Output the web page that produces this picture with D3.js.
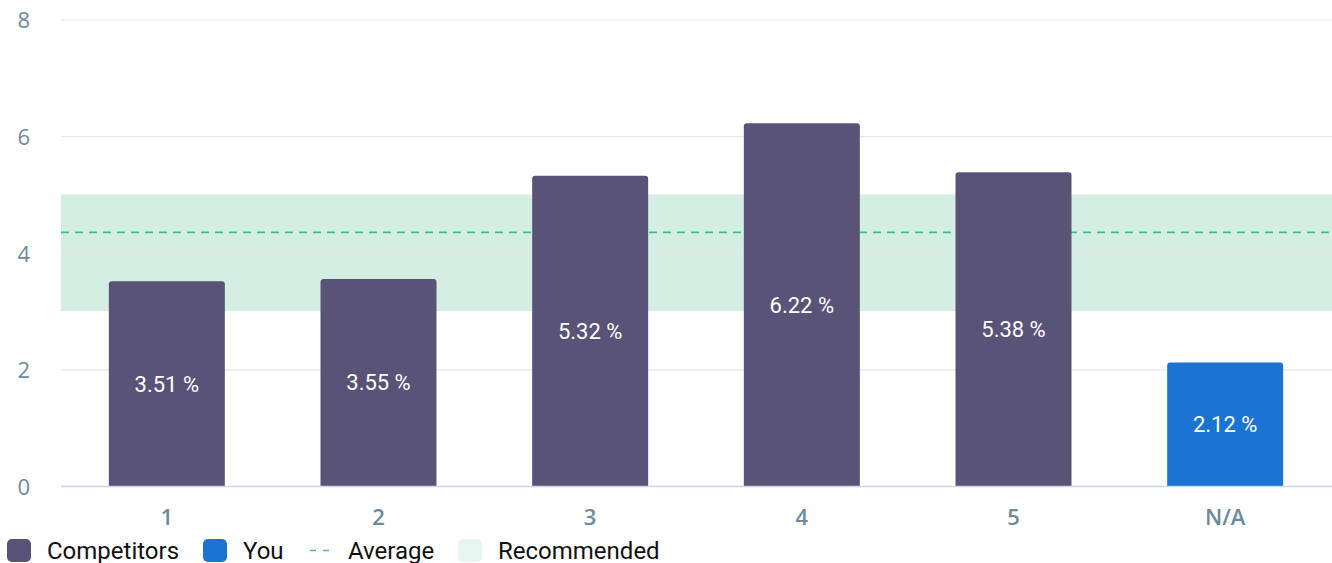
<!DOCTYPE html>
<html>
<head>
<meta charset="utf-8">
<script src="https://cdn.jsdelivr.net/npm/d3@7"></script>
<style>
  html, body { margin: 0; padding: 0; background: #fff; }
  svg { display: block; }
</style>
</head>
<body>
<svg id="chart" width="1332" height="563"></svg>
<script>
// Engagement rate by position (percent)
const categories = ["1", "2", "3", "4", "5", "N/A"];
const values = [3.51, 3.55, 5.32, 6.22, 5.38, 2.12];
const seriesOf = ["Competitors", "Competitors", "Competitors", "Competitors", "Competitors", "You"];
const yTicks = [0, 2, 4, 6, 8];
const averageValue = 4.35;
const recommendedRange = [3, 5];
const legendItems = ["Competitors", "You", "Average", "Recommended"];

const colors = {
  Competitors: "#595377",
  You: "#1a75d2",
  Average: "#3dbf87",
  Recommended: "#d5eee3",
  RecommendedKey: "#e6f5ef"
};

const W = 1332, H = 563;
const plot = { left: 61, right: 1331, top: 19.5, bottom: 486 };

const svg = d3.select("#chart");

const x = d3.scaleBand()
  .domain(categories)
  .range([plot.left, plot.right])
  .paddingInner(0.452)
  .paddingOuter(0.226);

const y = d3.scaleLinear()
  .domain([0, 8])
  .range([plot.bottom, plot.top]);

// Recommended band
svg.append("rect")
  .attr("x", plot.left)
  .attr("y", y(recommendedRange[1]))
  .attr("width", plot.right - plot.left + 1)
  .attr("height", y(recommendedRange[0]) - y(recommendedRange[1]))
  .attr("fill", colors.Recommended);

// Horizontal grid lines
const yAxis = d3.axisLeft(y)
  .tickValues(yTicks)
  .tickSize(-(plot.right - plot.left + 1))
  .tickPadding(31)
  .tickFormat(d3.format("d"));

const gy = svg.append("g")
  .attr("transform", `translate(${plot.left},0)`)
  .call(yAxis);
gy.select(".domain").remove();
gy.selectAll(".tick line")
  .attr("stroke", d => d === 0 ? "none" : "#e6e6e6")
  .attr("stroke-width", 1.2);
gy.selectAll(".tick text")
  .attr("x", -31)
  .attr("dy", "0.38em")
  .attr("text-anchor", "end")
  .attr("fill", "#6b8a9c")
  .style("font-family", "'Open Sans', sans-serif")
  .style("font-size", "22px");

// Average line
svg.append("line")
  .attr("x1", plot.left)
  .attr("x2", plot.right)
  .attr("y1", y(averageValue))
  .attr("y2", y(averageValue))
  .attr("stroke", colors.Average)
  .attr("stroke-width", 1.6)
  .attr("stroke-dasharray", "8,6");

// Bars with rounded top corners
const r = 3;
function barPath(x0, y0, w, h) {
  return `M${x0},${y0 + h}V${y0 + r}Q${x0},${y0} ${x0 + r},${y0}H${x0 + w - r}Q${x0 + w},${y0} ${x0 + w},${y0 + r}V${y0 + h}Z`;
}

const data = categories.map((c, i) => ({ cat: c, value: values[i], series: seriesOf[i] }));

svg.append("g")
  .selectAll("path")
  .data(data)
  .join("path")
  .attr("d", d => barPath(x(d.cat), y(d.value), x.bandwidth(), y(0) - y(d.value)))
  .attr("fill", d => colors[d.series]);

// Value labels
svg.append("g")
  .selectAll("text")
  .data(data)
  .join("text")
  .attr("x", d => x(d.cat) + x.bandwidth() / 2)
  .attr("y", d => (y(d.value) + y(0)) / 2)
  .attr("dy", "0.36em")
  .attr("text-anchor", "middle")
  .attr("fill", "#ffffff")
  .style("font-family", "Roboto, sans-serif")
  .style("font-weight", 400)
  .style("font-size", "22px")
  .text(d => `${d.value.toFixed(2)} %`);

// Baseline and category axis
const xAxis = d3.axisBottom(x).tickSize(0).tickPadding(0);
const gx = svg.append("g")
  .attr("transform", `translate(0,${plot.bottom})`)
  .call(xAxis);
gx.select(".domain")
  .attr("d", `M${plot.left},0.5H${plot.right + 1}`)
  .attr("stroke", "#ccd6eb")
  .attr("stroke-width", 1.5);
gx.selectAll(".tick text")
  .attr("y", 39)
  .attr("dy", 0)
  .attr("fill", "#6b8a9c")
  .style("font-family", "'Open Sans', sans-serif")
  .style("font-weight", 600)
  .style("font-size", "22px");

// Legend
const legend = svg.append("g");
const legendX = [7, 203, 310, 458];
const textX = [47, 243, 348, 498];
legendItems.forEach((name, i) => {
  if (name === "Average") {
    legend.append("line")
      .attr("x1", legendX[i]).attr("x2", legendX[i] + 19)
      .attr("y1", 550.5).attr("y2", 550.5)
      .attr("stroke", colors.Average)
      .attr("stroke-width", 1.6)
      .attr("stroke-dasharray", "6,7");
  } else {
    legend.append("rect")
      .attr("x", legendX[i]).attr("y", 539)
      .attr("width", 24).attr("height", 23)
      .attr("rx", 5)
      .attr("fill", name === "Recommended" ? colors.RecommendedKey : colors[name]);
  }
  legend.append("text")
    .attr("x", textX[i])
    .attr("y", 559)
    .attr("fill", "#111")
    .style("font-family", "Roboto, sans-serif")
    .style("font-size", "24px")
    .text(name);
});
</script>
</body>
</html>
